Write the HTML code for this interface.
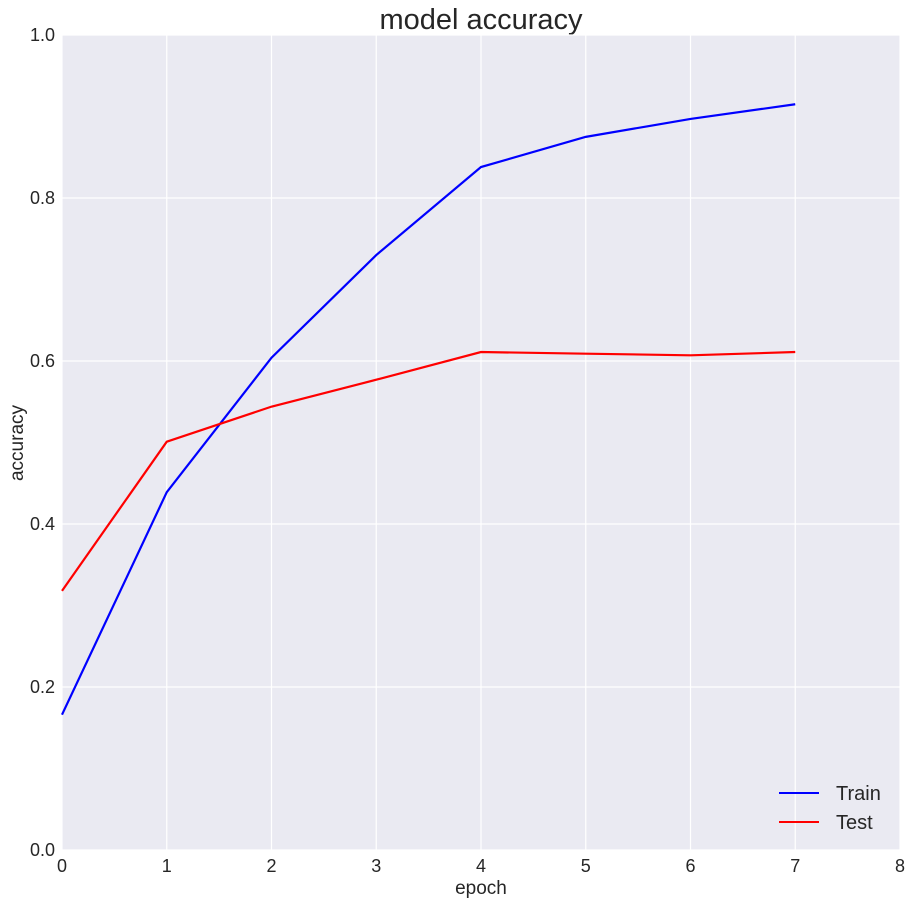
<!DOCTYPE html>
<html><head><meta charset="utf-8"><style>
body{margin:0;background:#fff;}
svg{display:block;font-family:"Liberation Sans",sans-serif;}
</style></head><body>
<svg id="chart" width="911" height="904">
<text x="481" y="29" text-anchor="middle" font-size="29" fill="#262626">model accuracy</text>
<rect x="62" y="35" width="838" height="815" fill="#EAEAF2"/>
<g id="grid"></g><g id="ticks"></g><g id="series"></g>
<text x="481" y="894" text-anchor="middle" font-size="19" fill="#262626">epoch</text>
<text x="23" y="443" text-anchor="middle" font-size="19" fill="#262626" transform="rotate(-90 23 443)">accuracy</text>
<g>
<line x1="779" y1="793" x2="819" y2="793" stroke="#0000ff" stroke-width="2"/>
<text x="836" y="800" font-size="20" fill="#262626">Train</text>
<line x1="779" y1="822" x2="819" y2="822" stroke="#ff0000" stroke-width="2"/>
<text x="836" y="829" font-size="20" fill="#262626">Test</text>
</g>
</svg>
<script>
const epochs=[0,1,2,3,4,5,6,7];
const trainAcc=[0.166,0.439,0.604,0.730,0.838,0.875,0.897,0.915];
const testAcc=[0.318,0.501,0.544,0.577,0.611,0.609,0.607,0.611];
const xTicks=[0,1,2,3,4,5,6,7,8];
const yTicks=[0.0,0.2,0.4,0.6,0.8,1.0];
const NS="http://www.w3.org/2000/svg";
const X=v=>62+v*(838/8);
const Y=v=>850-v*815;
const grid=document.getElementById('grid'),ticks=document.getElementById('ticks'),series=document.getElementById('series');
function mk(tag,attrs,parent,txt){const e=document.createElementNS(NS,tag);for(const k in attrs)e.setAttribute(k,attrs[k]);if(txt!==undefined)e.textContent=txt;parent.appendChild(e);return e;}
xTicks.forEach(t=>{
 const l=mk('line',{x1:X(t),x2:X(t),y1:35,y2:850,stroke:'#fff','stroke-width':1.2},grid);
 
 
 const s=mk('text',{x:X(t),y:872,'text-anchor':'middle','font-size':18,fill:'#262626'},ticks,String(t));
 
 
});
yTicks.forEach(t=>{
 const l=mk('line',{x1:62,x2:900,y1:Y(t),y2:Y(t),stroke:'#fff','stroke-width':1.2},grid);
 
 
 const s=mk('text',{x:55,y:Y(t)+6,'text-anchor':'end','font-size':18,fill:'#262626'},ticks,t.toFixed(1));
 
 
});
const p1=mk('polyline',{points:epochs.map((e,i)=>X(e)+','+Y(trainAcc[i])).join(' '),fill:'none',stroke:'#0000ff','stroke-width':2.2},series);


const p2=mk('polyline',{points:epochs.map((e,i)=>X(e)+','+Y(testAcc[i])).join(' '),fill:'none',stroke:'#ff0000','stroke-width':2.2},series);


</script>
</body></html>
